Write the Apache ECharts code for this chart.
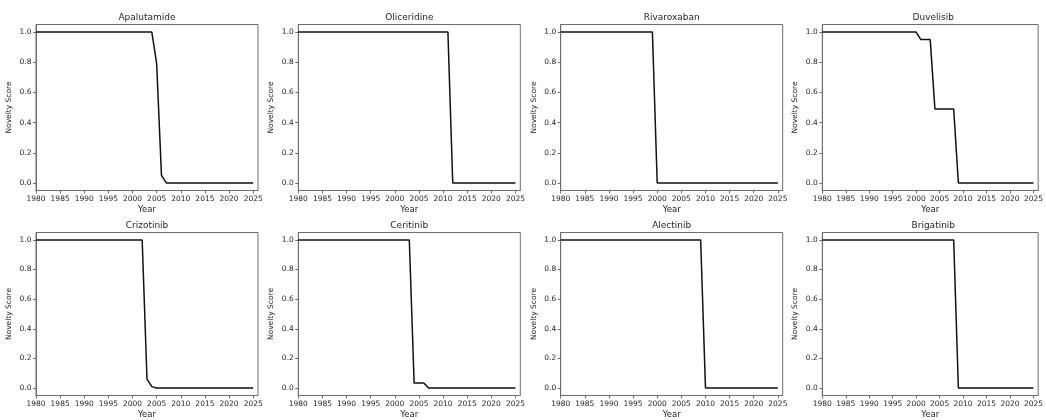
<!DOCTYPE html>
<html>
<head>
<meta charset="utf-8">
<script src="https://cdn.jsdelivr.net/npm/echarts@6/dist/echarts.min.js"></script>
<style>html,body{margin:0;padding:0;background:#fff}#c{width:1046px;height:420px}</style>
</head>
<body>
<div id="c"></div>
<script>
const drugNames = ['Apalutamide','Oliceridine','Rivaroxaban','Duvelisib','Crizotinib','Ceritinib','Alectinib','Brigatinib'];
// breakpoints of each step line (year, score)
const apalutamideYears = [1980, 2004, 2005, 2006, 2007, 2025];
const apalutamideScores = [1, 1, 0.79, 0.05, 0, 0];
const oliceridineYears = [1980, 2011, 2012, 2025];
const oliceridineScores = [1, 1, 0, 0];
const rivaroxabanYears = [1980, 1999, 2000, 2025];
const rivaroxabanScores = [1, 1, 0, 0];
const duvelisibYears = [1980, 2000, 2001, 2003, 2004, 2008, 2009, 2025];
const duvelisibScores = [1, 1, 0.95, 0.95, 0.49, 0.49, 0, 0];
const crizotinibYears = [1980, 2002, 2003, 2004, 2005, 2025];
const crizotinibScores = [1, 1, 0.06, 0.01, 0, 0];
const ceritinibYears = [1980, 2003, 2004, 2006, 2007, 2025];
const ceritinibScores = [1, 1, 0.035, 0.035, 0, 0];
const alectinibYears = [1980, 2009, 2010, 2025];
const alectinibScores = [1, 1, 0, 0];
const brigatinibYears = [1980, 2008, 2009, 2025];
const brigatinibScores = [1, 1, 0, 0];
const xTicks = [1980, 1985, 1990, 1995, 2000, 2005, 2010, 2015, 2020, 2025];
const yTicks = [0, 0.2, 0.4, 0.6, 0.8, 1.0];

const seriesYears = [apalutamideYears, oliceridineYears, rivaroxabanYears, duvelisibYears, crizotinibYears, ceritinibYears, alectinibYears, brigatinibYears];
const seriesScores = [apalutamideScores, oliceridineScores, rivaroxabanScores, duvelisibScores, crizotinibScores, ceritinibScores, alectinibScores, brigatinibScores];

const lefts = [36, 298.3, 560.7, 822.3];
const W = 222;
const tops = [24.5, 232.5];
const heights = [166, 165.5];
const titleY = [18, 225.5];
const font = 'DejaVu Sans';
const textColor = '#262626';
const spine = '#6e6e6e';

const grids = [], xAxes = [], yAxes = [], series = [], graphics = [];
for (let i = 0; i < 8; i++) {
  const r = Math.floor(i / 4), c = i % 4;
  grids.push({left: lefts[c], top: tops[r], width: W, height: heights[r], show: true, borderColor: spine, borderWidth: 1, backgroundColor: 'transparent', containLabel: false});
  xAxes.push({
    type: 'value', gridIndex: i, min: 1980, max: 2026,
    name: 'Year', nameLocation: 'middle', nameGap: 14.5,
    nameTextStyle: {fontFamily: font, fontSize: 8.5, color: textColor},
    axisLine: {show: true, onZero: false, lineStyle: {color: spine, width: 1}},
    axisTick: {show: true, length: 3, lineStyle: {color: spine}, customValues: xTicks},
    axisLabel: {fontFamily: font, fontSize: 7.5, color: textColor, margin: 4.5, customValues: xTicks, formatter: v => String(v)},
    splitLine: {show: false}
  });
  yAxes.push({
    type: 'value', gridIndex: i, min: -0.05, max: 1.05,
    name: 'Novelty Score', nameLocation: 'middle', nameGap: 23, nameRotate: 90,
    nameTextStyle: {fontFamily: font, fontSize: 7.5, color: textColor},
    axisLine: {show: true, lineStyle: {color: spine, width: 1}},
    axisTick: {show: true, length: 3, lineStyle: {color: spine}, customValues: yTicks},
    axisLabel: {fontFamily: font, fontSize: 7.5, color: textColor, margin: 4.5, customValues: yTicks, formatter: v => v.toFixed(1)},
    splitLine: {show: false}
  });
  series.push({
    type: 'line', xAxisIndex: i, yAxisIndex: i, showSymbol: false, animation: false,
    lineStyle: {color: '#111', width: 1.5},
    data: seriesYears[i].map((y, k) => [y, seriesScores[i][k]])
  });
  graphics.push({
    type: 'text', x: lefts[c] + W / 2, y: titleY[r],
    style: {text: drugNames[i], textAlign: 'center', textVerticalAlign: 'middle', fill: textColor, font: '9px "DejaVu Sans"'}
  });
}

const chart = echarts.init(document.getElementById('c'));
chart.setOption({
  animation: false,
  backgroundColor: '#fff',
  grid: grids, xAxis: xAxes, yAxis: yAxes, series: series, graphic: graphics
});
</script>
</body>
</html>
